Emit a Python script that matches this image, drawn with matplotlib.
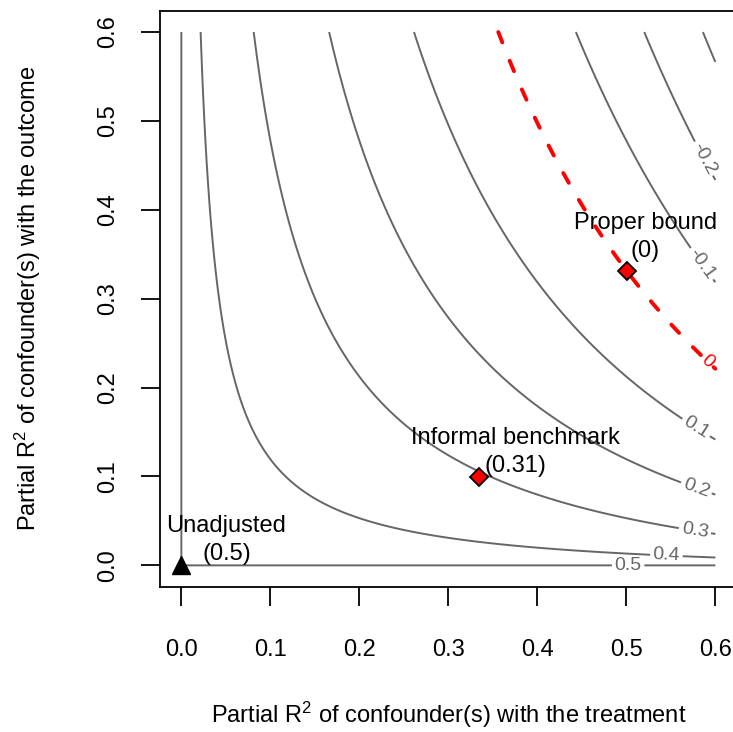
import numpy as np
import matplotlib
matplotlib.use("Agg")
import matplotlib.pyplot as plt

plt.rcParams['font.family'] = ['Liberation Sans', 'DejaVu Sans']
plt.rcParams['mathtext.fontset'] = 'custom'
plt.rcParams['mathtext.rm'] = 'Liberation Sans'
plt.rcParams['mathtext.default'] = 'regular'

# ---- data ----
estimate = 0.5          # unadjusted estimate
bias_scale = 0.868      # se * sqrt(dof)
lim = 0.6
levels = [-0.3, -0.2, -0.1, 0.1, 0.2, 0.3, 0.4, 0.5]
threshold = 0.0

pt_names = ["Unadjusted", "Informal benchmark", "Proper bound"]
pt_r2dz = [0.0, 0.335, 0.501]
pt_r2yz = [0.0, 0.099, 0.3315]
pt_values = ["0.5", "0.31", "0"]
ticks = [0.0, 0.1, 0.2, 0.3, 0.4, 0.5, 0.6]

# label spots for the contour numbers
lab_pos = [(0.502, 0.0), (0.545, 0.010), (0.577, 0.039), (0.579, 0.088),
           (0.579, 0.156), (0.586, 0.340), (0.586, 0.457)]
red_lab_pos = [(0.592, 0.231)]

# ---- grid ----
gx = np.linspace(0, lim, 401)
gy = np.linspace(0, lim, 401)
X, Y = np.meshgrid(gx, gy)
Z = estimate - bias_scale * np.sqrt(Y * X / (1 - X))

fig = plt.figure(figsize=(7.33, 7.32), dpi=100)
ax = fig.add_axes([160/733, 1 - 586.7/732, 576.7/733, 576/732])

# top level sits exactly on the axes, nudge it so it gets drawn
lv = [l - 1e-9 if l == estimate else l for l in levels]
cs = ax.contour(X, Y, Z, levels=lv, colors='#666666', linewidths=1.4,
                negative_linestyles='solid')
ax.clabel(cs, fmt='%g', fontsize=14, inline=True, inline_spacing=4,
          manual=lab_pos, colors='#666666')

cr = ax.contour(X, Y, Z, levels=[threshold], colors='red', linewidths=2.8,
                linestyles=[(0, (2.9, 5.1))])
cr.set_capstyle('round')
ax.clabel(cr, fmt='%g', fontsize=14, inline=True, inline_spacing=4,
          manual=red_lab_pos, colors='red')

# points
ax.plot(pt_r2dz[0], pt_r2yz[0], marker='^', ms=12.5, color='black', ls='none',
        zorder=5)
ax.plot(pt_r2dz[1:], pt_r2yz[1:], marker='D', ms=9.5, mfc='red', mec='black',
        mew=1.3, ls='none', zorder=5)

offs = [(0.0506, 0.0287), (0.0405, 0.0287), (0.0202, 0.038)]
for nm, x, y, v, (dx, dy) in zip(pt_names, pt_r2dz, pt_r2yz, pt_values, offs):
    ax.text(x + dx, y + dy, nm + "\n(" + v + ")", ha='center', va='center',
            fontsize=17, linespacing=1.35)

ax.set_xlim(-0.024, 0.624)
ax.set_ylim(-0.024, 0.624)
ax.set_xticks(ticks)
ax.set_yticks(ticks)
ax.set_xticklabels(["%.1f" % t for t in ticks])
ax.set_yticklabels(["%.1f" % t for t in ticks], rotation=90, va='center')
ax.tick_params(axis='both', length=13.7, width=1.3, labelsize=17, direction='out')
ax.tick_params(axis='x', pad=24)
ax.tick_params(axis='y', pad=16)
for s in ax.spines.values():
    s.set_linewidth(1.3)

ax.set_xlabel("Partial R$^2$ of confounder(s) with the treatment", fontsize=17,
              labelpad=28)
ax.set_ylabel("Partial R$^2$ of confounder(s) with the outcome", fontsize=17,
              labelpad=39)

fig.savefig("out.png", dpi=100)
